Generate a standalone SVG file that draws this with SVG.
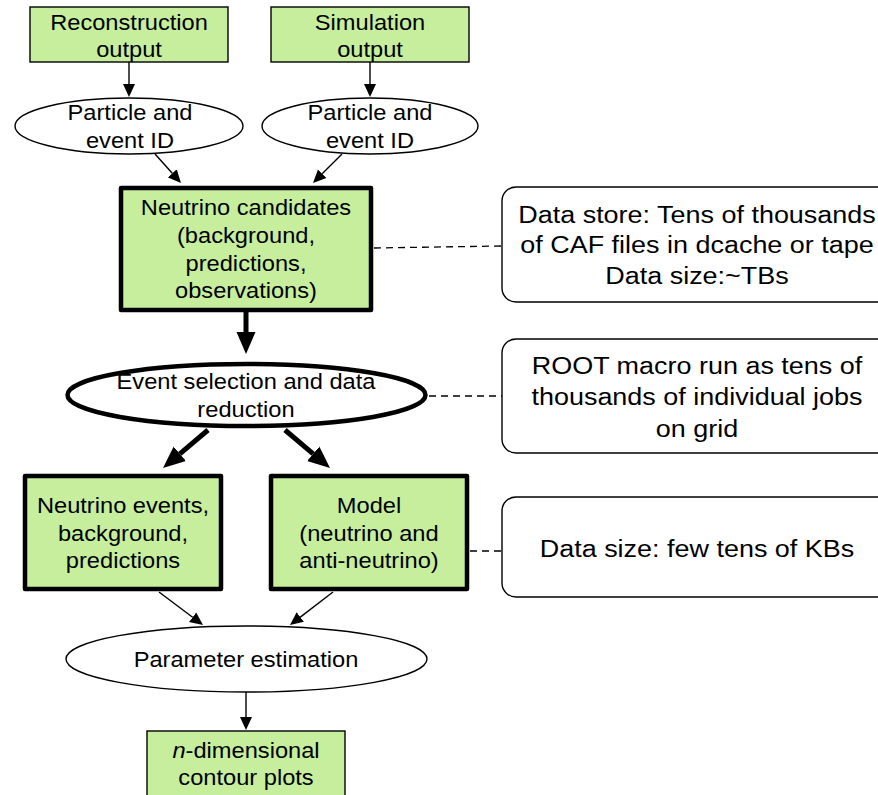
<svg xmlns="http://www.w3.org/2000/svg" width="878" height="795" viewBox="0 0 878 795">
<style>
.bg{fill:#ffffff}
.box{fill:#c6ee9c;stroke:#000;stroke-width:1.4}
.boxb{fill:#c6ee9c;stroke:#000;stroke-width:4.5;stroke-linejoin:round}
.ell{fill:#fff;stroke:#000;stroke-width:1.4}
.ellb{fill:#fff;stroke:#000;stroke-width:4.5}
.note{fill:#fff;stroke:#000;stroke-width:1.4}
.t{font-family:"Liberation Sans",Arial,Helvetica,sans-serif;font-size:21.5px;fill:#000;text-anchor:middle}
.tr{font-family:"Liberation Sans",Arial,Helvetica,sans-serif;font-size:24.5px;fill:#000;text-anchor:middle}
.ln{fill:none;stroke:#000;stroke-width:1.4}
.lnb{fill:none;stroke:#000;stroke-width:5}
.dash{fill:none;stroke:#000;stroke-width:1.3;stroke-dasharray:7 5}
</style>
<defs>
<marker id="ah" markerUnits="userSpaceOnUse" viewBox="0 -7 13 14" markerWidth="13" markerHeight="14" refX="0" refY="0" orient="auto">
<path d="M0,-6 L13,0 L0,6 z" fill="#000"/>
</marker>
<marker id="ahb" markerUnits="userSpaceOnUse" viewBox="0 -10 22 20" markerWidth="22" markerHeight="20" refX="0" refY="0" orient="auto">
<path d="M0,-9.5 L22,0 L0,9.5 z" fill="#000"/>
</marker>
</defs>
<rect class="bg" x="0" y="0" width="878" height="795"/>

<g id="connectors">
<path class="ln" d="M129,62 L129,84" marker-end="url(#ah)"/>
<path class="ln" d="M370,62 L370,84" marker-end="url(#ah)"/>
<path class="ln" d="M155,154 L172.3,173.3" marker-end="url(#ah)"/>
<path class="ln" d="M342,154 L322.2,173.8" marker-end="url(#ah)"/>
<path class="lnb" d="M246,312 L246,332" marker-end="url(#ahb)"/>
<path class="lnb" d="M208,430 L179.8,453.8" marker-end="url(#ahb)"/>
<path class="lnb" d="M285,430 L313.2,453.8" marker-end="url(#ahb)"/>
<path class="ln" d="M159,592 L192.6,617.2" marker-end="url(#ah)"/>
<path class="ln" d="M333,592 L300.3,617.1" marker-end="url(#ah)"/>
<path class="ln" d="M246,692 L246,717" marker-end="url(#ah)"/>
<path class="dash" d="M374,248 L502,246"/>
<path class="dash" d="M429,396 L502,396"/>
<path class="dash" d="M470,551 L502,551"/>
</g>

<g id="reco">
<rect class="box" x="30" y="7" width="198" height="55"/>
<text class="t" transform="translate(129,30) scale(1.1,1)">Reconstruction</text>
<text class="t" transform="translate(129,57) scale(1.1,1)">output</text>
</g>
<g id="sim">
<rect class="box" x="271" y="7" width="198" height="55"/>
<text class="t" transform="translate(370,30) scale(1.1,1)">Simulation</text>
<text class="t" transform="translate(370,57) scale(1.1,1)">output</text>
</g>
<g id="pid1">
<ellipse class="ell" cx="129" cy="126" rx="114" ry="28"/>
<text class="t" transform="translate(130,120) scale(1.1,1)">Particle and</text>
<text class="t" transform="translate(130,148) scale(1.1,1)">event ID</text>
</g>
<g id="pid2">
<ellipse class="ell" cx="370" cy="126" rx="108" ry="28"/>
<text class="t" transform="translate(370,120) scale(1.1,1)">Particle and</text>
<text class="t" transform="translate(370,148) scale(1.1,1)">event ID</text>
</g>
<g id="candidates">
<rect class="boxb" x="121" y="188" width="250" height="122"/>
<text class="t" transform="translate(246,215) scale(1.1,1)">Neutrino candidates</text>
<text class="t" transform="translate(246,243) scale(1.1,1)">(background,</text>
<text class="t" transform="translate(246,271) scale(1.1,1)">predictions,</text>
<text class="t" transform="translate(246,298) scale(1.1,1)">observations)</text>
</g>
<g id="selection">
<ellipse class="ellb" cx="246.5" cy="395" rx="179" ry="31"/>
<text class="t" transform="translate(246,389) scale(1.1,1)">Event selection and data</text>
<text class="t" transform="translate(246,417) scale(1.1,1)">reduction</text>
</g>
<g id="events">
<rect class="boxb" x="25" y="476" width="196" height="113"/>
<text class="t" transform="translate(123,513) scale(1.1,1)">Neutrino events,</text>
<text class="t" transform="translate(123,541) scale(1.1,1)">background,</text>
<text class="t" transform="translate(123,568) scale(1.1,1)">predictions</text>
</g>
<g id="model">
<rect class="boxb" x="271" y="476" width="196" height="113"/>
<text class="t" transform="translate(369,513) scale(1.1,1)">Model</text>
<text class="t" transform="translate(369,541) scale(1.1,1)">(neutrino and</text>
<text class="t" transform="translate(369,568) scale(1.1,1)">anti-neutrino)</text>
</g>
<g id="param">
<ellipse class="ell" cx="246.5" cy="659" rx="180.5" ry="33"/>
<text class="t" transform="translate(246,667) scale(1.1,1)">Parameter estimation</text>
</g>
<g id="contour">
<rect class="box" x="147" y="731" width="198" height="80"/>
<text class="t" transform="translate(246,758) scale(1.1,1)"><tspan font-style="italic">n</tspan>-dimensional</text>
<text class="t" transform="translate(246,785) scale(1.1,1)">contour plots</text>
</g>
<g id="note1">
<rect class="note" x="502" y="187" width="392" height="115" rx="14"/>
<text class="tr" transform="translate(697,223) scale(1.1,1)">Data store: Tens of thousands</text>
<text class="tr" transform="translate(697,253) scale(1.1,1)">of CAF files in dcache or tape</text>
<text class="tr" transform="translate(697,284) scale(1.1,1)">Data size:~TBs</text>
</g>
<g id="note2">
<rect class="note" x="502" y="339" width="392" height="114" rx="14"/>
<text class="tr" transform="translate(697,374) scale(1.1,1)">ROOT macro run as tens of</text>
<text class="tr" transform="translate(697,405) scale(1.1,1)">thousands of individual jobs</text>
<text class="tr" transform="translate(697,437) scale(1.1,1)">on grid</text>
</g>
<g id="note3">
<rect class="note" x="502" y="497" width="392" height="100" rx="14"/>
<text class="tr" transform="translate(697,557) scale(1.1,1)">Data size: few tens of KBs</text>
</g>
</svg>
